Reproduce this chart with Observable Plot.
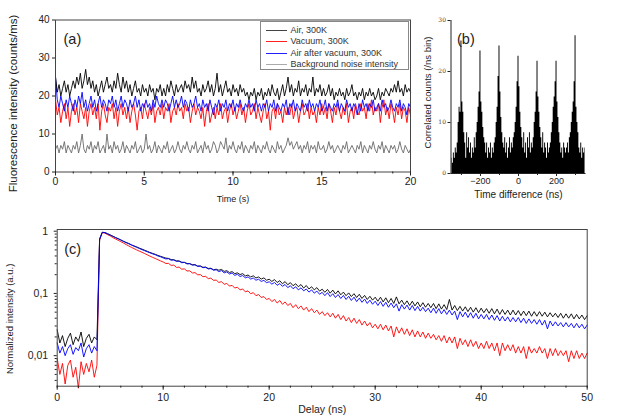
<!DOCTYPE html>
<html><head><meta charset="utf-8">
<script src="https://cdn.jsdelivr.net/npm/d3@7"></script>
<script src="https://cdn.jsdelivr.net/npm/@observablehq/plot@0.6"></script>
<style>
body{margin:0;background:#fff;}
#fig{position:relative;width:622px;height:417px;overflow:hidden;background:#fff;font-family:"Liberation Sans",Arial,sans-serif;}
.p{position:absolute;}
.p svg{overflow:visible;}
#legend{position:absolute;left:259.5px;top:21px;width:149px;height:49px;box-sizing:border-box;border:1px solid #888;background:#fff;font-size:9px;color:#333;}
.li{position:absolute;left:0;height:12px;line-height:12px;white-space:nowrap;}
.sw{display:inline-block;width:21px;height:1px;vertical-align:middle;margin:0 4px 0 5px;}
</style></head><body>
<div id="fig">
<div id="pa" class="p" style="left:0;top:0"></div>
<div id="pb" class="p" style="left:420px;top:0"></div>
<div id="pc" class="p" style="left:0;top:210px"></div>
<div id="legend"></div>
</div>
<script>
// ---------- Panel (a): fluorescence time traces, sampled every 0.1 s ----------
const seriesNamesA = ["Air, 300K","Vacuum, 300K","Air after vacuum, 300K","Background noise intensity"];
const timeStepA = 0.1;
const airA = [25,21,23,20,22,24,21,23,20,22,24,
22,25,23,26,22,24,27,23,25,22, 24,21,23,20,22,24,21,23,25,22, 23,21,24,22,26,23,21,25,22,24,
21,23,20,22,24,21,22,20,23,21, 22,20,23,21,22,19,22,21,23,20, 22,20,23,21,24,22,20,23,21,22,
23,21,24,22,23,21,25,22,24,21, 22,20,23,21,22,24,21,23,20,22, 26,21,23,20,22,24,21,22,20,23,
21,22,20,23,21,22,20,21,19,21, 20,22,19,21,20,22,19,21,20,22, 20,23,21,20,22,19,21,23,20,22,
25,21,23,20,22,21,24,20,22,21, 23,20,22,21,25,20,22,21,23,20, 22,20,21,23,20,22,19,21,20,22,
20,21,19,22,20,21,23,20,21,19, 21,20,22,19,21,20,22,20,21,19, 20,22,19,21,20,22,21,20,22,21,
23,21,24,21,22,20,23,21,22,21];
const vacuumA = [19,15,17,13,16,18,14,17,12,16,18,
15,17,13,18,16,14,17,12,16,18, 15,17,14,18,11,16,18,15,13,17, 16,18,14,17,12,16,18,15,17,14,
17,13,16,18,15,11,16,17,14,18, 16,14,17,15,18,13,16,17,15,18, 14,17,16,18,13,16,17,15,18,16,
17,14,18,16,17,13,16,18,15,17, 16,14,17,12,16,18,13,15,17,14, 17,15,18,14,16,17,13,16,18,15,
17,14,16,18,15,17,13,16,18,15, 16,18,14,17,15,13,16,18,14,16, 11,16,17,14,18,15,16,13,17,15,
17,15,18,14,16,17,13,16,18,15, 16,18,14,17,15,16,13,17,15,18, 15,17,14,18,16,13,17,15,18,16,
14,17,15,18,13,16,17,14,18,16, 15,18,16,17,14,18,16,19,15,17, 16,18,13,17,19,15,17,14,18,16,
13,17,15,18,14,17,16,13,17,15];
const airAfterVacA = [25,19,17,20,18,16,19,17,20,18,16,
19,17,20,18,21,17,19,16,18,20, 17,19,16,18,20,17,19,18,16,19, 18,20,17,19,16,18,20,17,19,18,
16,19,17,18,20,17,19,16,18,17, 19,17,18,16,19,17,20,18,17,19, 17,19,18,16,18,20,17,19,17,18,
20,17,19,18,16,19,17,18,20,17, 18,16,19,17,18,16,19,17,15,18, 17,19,16,18,17,19,16,18,17,19,
16,18,17,19,17,16,18,17,19,17, 18,16,19,17,18,16,18,17,19,16, 18,17,19,16,18,17,16,18,17,19,
15,18,17,19,16,18,17,16,19,17, 18,16,19,17,18,16,18,17,19,16, 17,19,16,18,17,16,18,17,19,16,
18,17,16,19,17,18,16,18,17,15, 18,16,19,17,18,16,18,17,19,16, 17,18,16,19,17,18,16,17,19,17,
16,18,17,19,16,18,17,15,18,17];
const backgroundA = [6,7,5,7,6,8,5,7,6,5,7,
6,8,5,7,10,6,5,7,6,8, 5,7,6,8,5,6,7,5,10,6, 7,5,8,6,7,5,6,8,5,7,
6,5,7,6,8,5,6,7,5,6, 10,6,7,5,6,8,5,7,6,5, 7,6,8,5,6,7,5,6,8,6,
5,7,6,8,6,5,7,6,8,5, 6,7,5,8,6,7,5,6,8,7, 5,6,8,7,6,9,5,7,6,8,
6,5,7,6,8,5,7,6,5,7, 6,8,5,7,6,5,7,6,8,6, 5,7,6,5,8,6,7,5,6,7,
9,7,8,6,7,8,6,7,5,7, 6,8,5,7,6,7,5,8,6,6, 7,5,6,8,6,7,5,6,7,6,
5,7,6,8,5,6,7,6,5,7, 6,8,5,7,6,5,7,6,8,6, 5,7,6,8,5,7,6,5,7,6,
7,5,6,8,6,5,7,6,5,6];
const ticksA = [0,5,10,15,20];

// ---------- Panel (b): coincidence histogram, 5 ns bins centred from -350 ns ----------
const binStartB = -350, binWidthB = 5;
const countsB = [3,2,4,3,5,4,6,10,13,12,26,14,12,8,6,3,8,5,7,4,6,3,5,4,7,5,8,10,13,16,24,14,12,9,7,6,4,6,3,5,4,6,3,5,4,6,7,10,13,19,25,16,11,8,6,5,7,4,6,3,5,7,4,6,5,7,8,10,13,18,23,17,12,9,7,5,8,4,6,3,7,5,8,4,6,5,7,10,12,16,22,15,12,9,7,5,8,4,6,5,3,6,4,5,6,8,10,13,15,18,22,14,11,8,6,4,5,3,6,5,4,5,6,4,7,8,10,12,14,18,27,13,10,8,5,4,6,3,5,4,5];
const domainXB = [-355, 355];

// ---------- Panel (c): normalized decays, sampled every 0.25 ns ----------
const delayStepC = 0.25;
const airC = [0.026,0.016,0.021,0.014,0.019,0.023,0.015,0.020,0.017,0.024,0.014,0.019,0.022,0.016,0.020,0.018,
0.75,0.96,0.95,0.91,0.87,0.83,0.79,0.76,0.725,0.69,0.66,0.635,0.605,0.58,0.56,0.535,0.515,0.495,0.475,0.455,0.44,0.425,0.408,0.395,0.382,
.37,.365,.35,.347,.335,.332,.318,.315,.303,.30,.29,.289,.276,.275,.263,.265,.252,.254,.24,.245,
.236,.243,.226,.232,.217,.224,.208,.214,.201,.208,.191,.198,.184,.192,.177,.184,.170,.178,.163,.169,
.156,.167,.150,.160,.143,.155,.138,.149,.133,.143,.128,.139,.122,.134,.118,.128,.114,.124,.109,.117,
.104,.116,.101,.113,.098,.110,.095,.105,.092,.102,.089,.099,.086,.097,.083,.093,.080,.090,.078,.087,
.075,.087,.073,.085,.071,.083,.069,.088,.068,.078,.066,.076,.064,.075,.063,.073,.061,.071,.060,.069,
.059,.069,.057,.068,.056,.066,.055,.080,.054,.064,.053,.062,.052,.061,.051,.060,.050,.059,.049,.058,
.049,.057,.048,.057,.047,.056,.046,.055,.046,.054,.045,.054,.045,.053,.044,.052,.044,.052,.043,.051,
.043,.051,.043,.050,.042,.049,.042,.048,.041,.048,.040,.047,.040,.047,.039,.046,.039,.045,.038,.044];
const airAfterVacC = [0.016,0.011,0.014,0.010,0.013,0.015,0.0105,0.0135,0.012,0.016,0.0095,0.013,0.015,0.011,0.014,0.012,
0.74,0.96,0.95,0.91,0.87,0.83,0.79,0.755,0.72,0.685,0.655,0.628,0.60,0.575,0.55,0.527,0.505,0.486,0.466,0.45,0.432,0.418,0.40,0.388,0.372,
.358,.362,.341,.346,.326,.331,.311,.316,.297,.302,.284,.289,.271,.276,.259,.263,.247,.251,.236,.240,
.224,.233,.214,.222,.205,.213,.195,.203,.187,.194,.178,.185,.170,.177,.163,.169,.156,.162,.149,.154,
.141,.150,.135,.144,.130,.139,.124,.133,.119,.128,.114,.123,.110,.118,.105,.114,.101,.109,.097,.104,
.092,.103,.089,.099,.086,.096,.083,.093,.080,.090,.077,.087,.074,.084,.072,.081,.069,.078,.067,.075,
.064,.074,.062,.072,.060,.070,.059,.068,.052,.066,.056,.065,.054,.064,.053,.062,.052,.060,.051,.058,
.049,.058,.048,.057,.047,.055,.046,.054,.045,.052,.038,.051,.042,.050,.041,.049,.040,.048,.039,.046,
.039,.046,.038,.045,.037,.044,.036,.043,.036,.042,.035,.041,.035,.041,.034,.040,.033,.039,.033,.038,
.032,.038,.031,.037,.027,.036,.030,.035,.030,.034,.029,.034,.029,.033,.028,.033,.028,.032,.027,.031];
const vacuumC = [0.009,0.005,0.0075,0.0035,0.007,0.0085,0.0045,0.0065,0.003,0.008,0.005,0.0075,0.0055,0.0085,0.0045,0.007,
0.72,0.95,0.93,0.88,0.84,0.79,0.75,0.715,0.68,0.645,0.61,0.58,0.55,0.525,0.50,0.478,0.458,0.437,0.417,0.398,0.38,0.364,0.348,0.333,0.32,
.303,.304,.282,.285,.262,.265,.245,.248,.229,.231,.213,.216,.199,.201,.186,.188,.173,.176,.162,.164,
.150,.155,.140,.145,.131,.135,.122,.126,.114,.118,.106,.110,.099,.103,.092,.096,.086,.089,.080,.083,
.074,.080,.070,.077,.067,.073,.064,.069,.059,.066,.057,.063,.054,.060,.051,.057,.049,.054,.046,.051,
.044,.049,.042,.048,.040,.046,.038,.044,.036,.041,.034,.040,.033,.038,.031,.036,.030,.034,.028,.032,
.027,.032,.026,.031,.025,.030,.020,.029,.023,.028,.022,.027,.021,.026,.020,.025,.020,.024,.019,.023,
.019,.022,.018,.021,.017,.021,.016,.020,.016,.020,.013,.019,.015,.018,.014,.018,.014,.017,.013,.016,
.013,.017,.013,.016,.012,.016,.010,.016,.012,.015,.012,.015,.011,.014,.011,.014,.009,.014,.011,.013,
.011,.014,.011,.013,.009,.013,.010,.013,.010,.012,.010,.012,.008,.012,.009,.012,.009,.011,.009,.011];
const majorTicksC = [1, 0.1, 0.01];
const xTicksC = [0,10,20,30,40,50];

// ---------- build ----------
const font = "Liberation Sans, Arial, sans-serif";
const baseStyle = {fontFamily: font, background: "transparent", color: "#222", maxWidth: "none", overflow: "visible"};
const rowsA = arr => arr.map((v, i) => ({t: i * timeStepA, v}));
const rowsC = arr => arr.map((v, i) => ({t: i * delayStepC, v}));
const blank = () => "";
const lbl = (s, o) => Plot.text([s], {text: d => d, fill: "#222", ...o});

const pa = Plot.plot({
  width: 422, height: 210, marginLeft: 55, marginRight: 12, marginTop: 19.5, marginBottom: 38.5,
  style: baseStyle,
  x: {domain: [0, 20]}, y: {domain: [0, 40]},
  marks: [
    Plot.lineY(rowsA(backgroundA), {x: "t", y: "v", stroke: "#6a6a6a", strokeWidth: 0.9}),
    Plot.lineY(rowsA(vacuumA), {x: "t", y: "v", stroke: "#ff0000", strokeWidth: 0.9}),
    Plot.lineY(rowsA(airAfterVacA), {x: "t", y: "v", stroke: "#0000ff", strokeWidth: 0.9}),
    Plot.lineY(rowsA(airA), {x: "t", y: "v", stroke: "#000", strokeWidth: 0.9}),
    Plot.frame({stroke: "#444"}),
    Plot.axisY({ticks: [0,10,20,30,40], tickSize: 3, tickPadding: 3, fontSize: 10, label: null}),
    Plot.axisX({ticks: ticksA, tickSize: 4, tickPadding: 2, fontSize: 10.5, label: null}),
    Plot.axisX({ticks: d3.range(0, 21, 1), tickSize: 2, tickFormat: blank, label: null}),
    lbl("(a)", {frameAnchor: "top-left", dx: 8, dy: 14, fontSize: 14.5, textAnchor: "start"}),
    lbl("Time (s)", {frameAnchor: "bottom", dy: 29.5, fontSize: 9}),
    lbl("Fluorescence intensity (counts/ms)", {frameAnchor: "left", rotate: -90, textAnchor: "middle", dx: -42, dy: 7.5, fontSize: 11.5})
  ]
});
document.getElementById("pa").append(pa);

const binsB = countsB.map((c, i) => ({x: binStartB + i * binWidthB, c}));
const pb = Plot.plot({
  width: 202, height: 210, marginLeft: 30.5, marginRight: 36.5, marginTop: 20, marginBottom: 37,
  style: baseStyle,
  x: {domain: domainXB}, y: {domain: [0, 30]},
  marks: [
    Plot.areaY(binsB, {x: "x", y: "c", curve: "step", fill: "#000"}),
    Plot.ruleY([0], {stroke: "#222"}),
    Plot.ruleX([domainXB[0]], {stroke: "#222"}),
    Plot.axisY({ticks: [0,10,20,30], tickSize: 3, tickPadding: 2, fontSize: 6, fontFamily: "DejaVu Serif, serif", fill: "#444", label: null}),
    Plot.axisX({ticks: [-200, 0, 200], tickSize: 3, tickPadding: 1, fontSize: 9, label: null}),
    Plot.axisX({ticks: [-300, -100, 100, 300], tickSize: 2, tickFormat: blank, label: null}),
    lbl("(b)", {frameAnchor: "top-left", dx: 6, dy: 13, fontSize: 14.5, textAnchor: "start"}),
    lbl("Time difference (ns)", {frameAnchor: "bottom", dy: 24, fontSize: 10}),
    lbl("Correlated counts (/ns bin)", {frameAnchor: "left", rotate: -90, textAnchor: "middle", dx: -23.5, dy: -4.5, fontSize: 9.5})
  ]
});
document.getElementById("pb").append(pb);

const minorC = [0.004,0.005,0.006,0.007,0.008,0.009,0.02,0.03,0.04,0.05,0.06,0.07,0.08,0.09,0.2,0.3,0.4,0.5,0.6,0.7,0.8,0.9];
const pc = Plot.plot({
  width: 622, height: 207, marginLeft: 56.7, marginRight: 35.3, marginTop: 19, marginBottom: 31.3,
  style: baseStyle,
  x: {domain: [0, 50]}, y: {type: "log", domain: [0.00323, 1.065]},
  marks: [
    Plot.lineY(rowsC(vacuumC), {x: "t", y: "v", stroke: "#ff0000", strokeWidth: 0.9}),
    Plot.lineY(rowsC(airC), {x: "t", y: "v", stroke: "#000", strokeWidth: 0.9}),
    Plot.lineY(rowsC(airAfterVacC), {x: "t", y: "v", stroke: "#0000ff", strokeWidth: 0.9}),
    Plot.frame({stroke: "#444"}),
    Plot.axisY({ticks: majorTicksC, tickFormat: d => String(d).replace(".", ","), tickSize: 3, tickPadding: 6, fontSize: 10.5, label: null}),
    Plot.axisY({ticks: minorC, tickSize: 2, tickFormat: blank, label: null}),
    Plot.axisX({ticks: xTicksC, tickSize: 4, tickPadding: 3.5, fontSize: 10.5, label: null}),
    Plot.axisX({ticks: d3.range(0, 51, 2), tickSize: 2, tickFormat: blank, label: null}),
    lbl("(c)", {frameAnchor: "top-left", dx: 7, dy: 14, fontSize: 14.5, textAnchor: "start"}),
    lbl("Delay (ns)", {frameAnchor: "bottom", dy: 27, fontSize: 10.5}),
    lbl("Normalized intensity (a.u.)", {frameAnchor: "left", rotate: -90, textAnchor: "middle", dx: -47, dy: 11, fontSize: 9.5})
  ]
});
document.getElementById("pc").append(pc);

// legend for panel (a)
const legendColors = ["#444", "#ff2020", "#2020ff", "#aaa"];
const tops = [1.5, 13, 24.5, 36];
const lg = document.getElementById("legend");
seriesNamesA.forEach((name, i) => {
  const d = document.createElement("div");
  d.className = "li"; d.style.top = tops[i] + "px";
  d.innerHTML = `<span class="sw" style="background:${legendColors[i]}"></span>${name}`;
  lg.append(d);
});
</script>
</body></html>
